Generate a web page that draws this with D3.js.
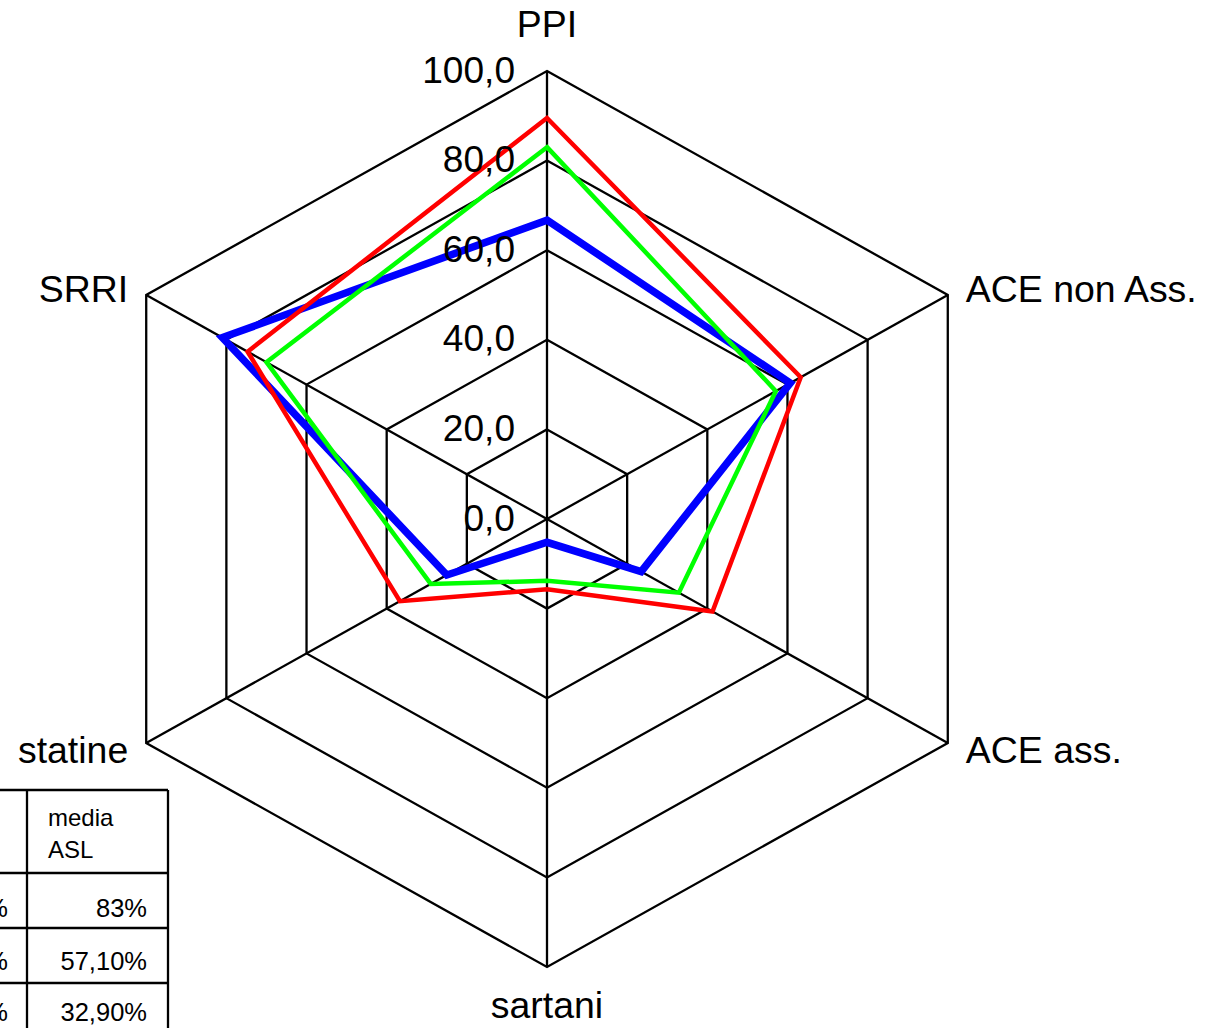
<!DOCTYPE html>
<html>
<head>
<meta charset="utf-8">
<script src="https://cdn.jsdelivr.net/npm/d3@7"></script>
<style>
  html, body { margin: 0; padding: 0; background: #fff; }
  svg { display: block; font-family: "Liberation Sans", Arial, sans-serif; }
</style>
</head>
<body>
<svg id="chart" width="1212" height="1028"></svg>
<script>
// ---- data ----
const categories = ["PPI", "ACE non Ass.", "ACE ass.", "sartani", "statine", "SRRI"];
const seriesBlue  = [66.7, 60.7, 23.5, 5.2, 25.0, 81.0];
const seriesRed   = [89.5, 63.3, 41.3, 15.7, 36.7, 74.7];
const seriesGreen = [83.0, 57.1, 32.9, 13.8, 29.0, 70.0];
const tickValues  = [0, 20, 40, 60, 80, 100];
const tickLabels  = ["0,0", "20,0", "40,0", "60,0", "80,0", "100,0"];
const tableHeader = ["", "media ASL"];
const tableLeft   = ["90%", "63,30%", "41,30%"];
const tableRight  = ["83%", "57,10%", "32,90%"];

// ---- layout ----
const svg = d3.select("#chart");
const cx = 547, cy = 519;
const kx = 1.033;
const r = d3.scaleLinear().domain([0, 100]).range([0, 448]);
const angle = d3.scaleLinear().domain([0, categories.length]).range([0, 2 * Math.PI]);
const px = (i, v) => cx + kx * r(v) * Math.sin(angle(i));
const py = (i, v) => cy - r(v) * Math.cos(angle(i));

const g = svg.append("g");

// rings
tickValues.filter(t => t > 0).forEach(t => {
  const pts = categories.map((c, i) => [px(i, t), py(i, t)]);
  g.append("path")
    .attr("d", d3.line().curve(d3.curveLinearClosed)(pts))
    .attr("fill", "none").attr("stroke", "#000").attr("stroke-width", 2.3);
});
// spokes
categories.forEach((c, i) => {
  g.append("line")
    .attr("x1", px(i, 0)).attr("y1", py(i, 0))
    .attr("x2", px(i, 100)).attr("y2", py(i, 100))
    .attr("stroke", "#000").attr("stroke-width", 2.3);
});

// series
const series = [
  { values: seriesBlue,  color: "#0000ff", width: 7.5 },
  { values: seriesRed,   color: "#ff0000", width: 4.5 },
  { values: seriesGreen, color: "#00ff00", width: 4.5 }
];
series.forEach(s => {
  const pts = s.values.map((v, i) => [px(i, v), py(i, v)]);
  g.append("path")
    .attr("d", d3.line().curve(d3.curveLinearClosed)(pts))
    .attr("fill", "none").attr("stroke", s.color)
    .attr("stroke-width", s.width).attr("stroke-linejoin", "miter");
});

// tick labels
tickValues.forEach((t, k) => {
  g.append("text")
    .attr("transform", `translate(${cx - 32},${py(0, t) + 2}) scale(1.03,1)`)
    .attr("text-anchor", "end").attr("dominant-baseline", "middle")
    .attr("font-size", 36).attr("fill", "#000")
    .text(tickLabels[k]);
});

// category labels
categories.forEach((c, i) => {
  const s = Math.sin(angle(i)), co = Math.cos(angle(i));
  let x = px(i, 100), y = py(i, 100), anchor = "middle";
  if (s > 0.1) { anchor = "start"; x += 18; }
  else if (s < -0.1) { anchor = "end"; x -= 18; }
  if (co > 0.9) y -= 34;
  else if (co > 0) y += 7;
  else if (co > -0.9) y += 20;
  else y += 51;
  g.append("text")
    .attr("transform", `translate(${x},${y}) scale(1.04,1)`)
    .attr("text-anchor", anchor)
    .attr("font-size", 36).attr("fill", "#000")
    .text(c);
});

// table
const t = svg.append("g");
const colX = [-120, 27, 168];
const rowY = [790, 873, 928, 983, 1038];
rowY.forEach(y => {
  t.append("line").attr("x1", colX[0]).attr("x2", colX[2]).attr("y1", y).attr("y2", y)
    .attr("stroke", "#000").attr("stroke-width", 2.3);
});
colX.forEach(x => {
  t.append("line").attr("x1", x).attr("x2", x).attr("y1", rowY[0]).attr("y2", rowY[4])
    .attr("stroke", "#000").attr("stroke-width", 2.3);
});
const hdr = tableHeader[1].split(" ");
hdr.forEach((w, k) => {
  t.append("text").attr("x", 48).attr("y", 826 + k * 32)
    .attr("font-size", 24).attr("fill", "#000").text(w);
});
const rowBase = [917, 970, 1021];
tableRight.forEach((v, k) => {
  t.append("text").attr("x", 147).attr("y", rowBase[k])
    .attr("text-anchor", "end").attr("font-size", 25.5).attr("fill", "#000").text(v);
});
tableLeft.forEach((v, k) => {
  t.append("text").attr("x", 8).attr("y", rowBase[k])
    .attr("text-anchor", "end").attr("font-size", 25.5).attr("fill", "#000").text(v);
});
</script>
</body>
</html>
